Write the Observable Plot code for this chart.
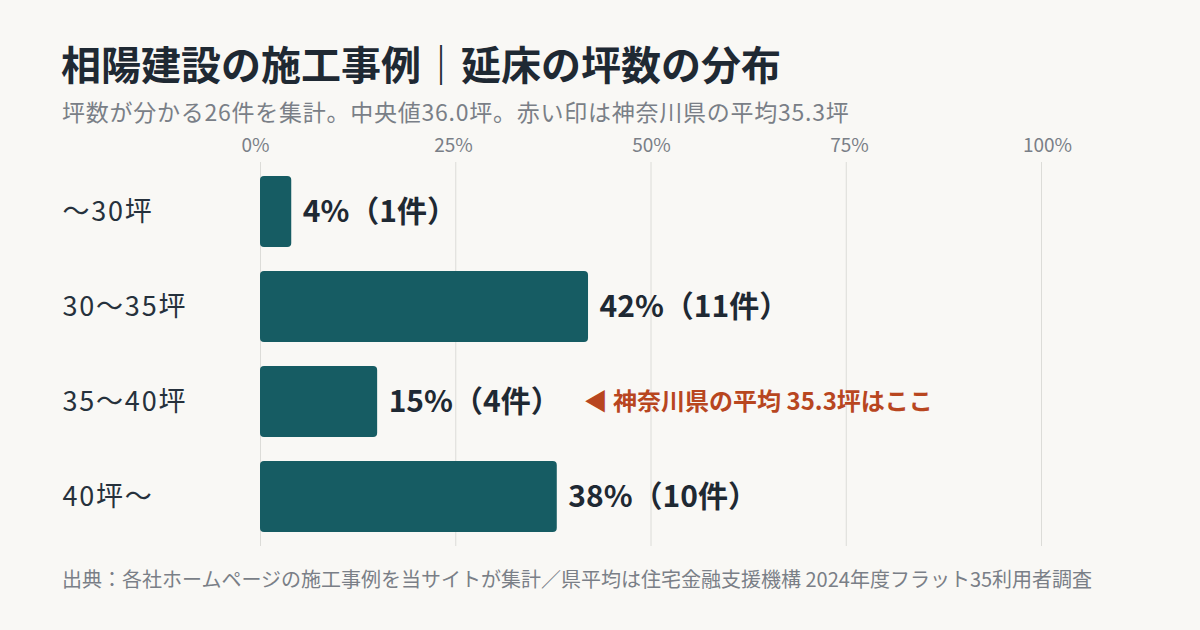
<!DOCTYPE html>
<html><head><meta charset="utf-8">
<script src="https://cdn.jsdelivr.net/npm/d3@7"></script>
<script src="https://cdn.jsdelivr.net/npm/@observablehq/plot@0.6"></script>
<style>
html,body{margin:0;padding:0;background:#f9f8f5;}
body{width:1200px;height:630px;position:relative;overflow:hidden;font-family:"Noto Sans CJK JP","Noto Sans",sans-serif;}
#title{position:absolute;left:61px;top:43px;font-size:40px;font-weight:700;color:#1f2933;line-height:1;white-space:nowrap;}
#subtitle{position:absolute;left:62px;top:100px;font-size:23px;letter-spacing:0.75px;color:#7a7f87;line-height:1;white-space:nowrap;}
#chart{position:absolute;left:0;top:130px;}
#footer{position:absolute;left:62px;top:569px;font-size:20px;color:#7a7f87;line-height:1;white-space:nowrap;}
</style></head>
<body>
<div id="title">相陽建設の施工事例｜延床の坪数の分布</div>
<div id="subtitle">坪数が分かる26件を集計。中央値36.0坪。赤い印は神奈川県の平均35.3坪</div>
<div id="chart"></div>
<div id="footer">出典：各社ホームページの施工事例を当サイトが集計／県平均は住宅金融支援機構 2024年度フラット35利用者調査</div>
<script>
const categories = ["〜30坪", "30〜35坪", "35〜40坪", "40坪〜"];
const percents = [4, 42, 15, 38];
const counts = [1, 11, 4, 10];
const xTicks = [0, 25, 50, 75, 100];
const noteCategory = "35〜40坪";
const noteText = "◀ 神奈川県の平均 35.3坪はここ";

const rows = categories.map((c, i) => ({cat: c, pct: percents[i], n: counts[i], label: `${percents[i]}%（${counts[i]}件）`}));
const note = rows.filter(d => d.cat === noteCategory);

const tickLabelMarks = xTicks.map((t, i) =>
  Plot.text([t], {x: d => d, text: d => d + "%", frameAnchor: "top", dy: -11, lineAnchor: "bottom",
    dx: -5 + i * 2.75, fontSize: 19, fill: "#7a7f87"})
);

const chart = Plot.plot({
  width: 1200,
  height: 420,
  marginLeft: 260,
  marginRight: 159,
  marginTop: 32,
  marginBottom: 4,
  style: {background: "transparent", fontFamily: "'Noto Sans CJK JP', 'Noto Sans', sans-serif", overflow: "visible"},
  x: {domain: [0, 100], axis: null},
  y: {domain: categories, paddingInner: 0.25, paddingOuter: 0.13, axis: null},
  marks: [
    Plot.ruleX(xTicks, {stroke: "#dcdcd8", strokeWidth: 1}),
    ...tickLabelMarks,
    Plot.barX(rows, {x: "pct", y: "cat", fill: "#165c63", rx: 4}),
    Plot.text(rows, {y: "cat", text: "cat", frameAnchor: "left", dx: -198, textAnchor: "start", fontSize: 27, fill: "#26313c"}),
    Plot.text(rows, {x: "pct", y: "cat", text: "label", dx: 11, textAnchor: "start", fontSize: 30, fontWeight: 700, fill: "#1f2933"}),
    Plot.text(note, {x: "pct", y: "cat", text: () => noteText, dx: 206, textAnchor: "start", fontSize: 24, fontWeight: 700, fill: "#b8461f"})
  ]
});
chart.querySelectorAll("text").forEach(t => {
  if (categories.includes(t.textContent)) t.setAttribute("letter-spacing", "1.8");
});
document.getElementById("chart").appendChild(chart);
</script>
</body></html>
